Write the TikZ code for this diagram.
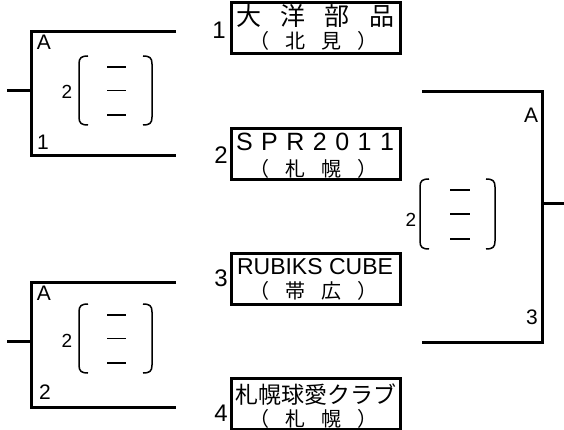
\documentclass[tikz,border=0pt]{standalone}
\usepackage{fontspec}
\setmainfont{Liberation Sans}
\newfontfamily\jp{Noto Sans CJK JP}
\newcommand\scorebr[6]{%
  \draw[thinl] ({#1+9},#3) .. controls ({#1+2},#3) and (#1,{#3+2}) .. (#1,{#3+8}) -- (#1,{#4-8}) .. controls (#1,{#4-2}) and ({#1+2},#4) .. ({#1+9},#4);
  \draw[thinl] ({#2-9},#3) .. controls ({#2-2},#3) and (#2,{#3+2}) .. (#2,{#3+8}) -- (#2,{#4-8}) .. controls (#2,{#4-2}) and ({#2-2},#4) .. ({#2-9},#4);
  \draw[thinl] (#5,{#3+11}) -- (#6,{#3+11});
  \draw[thinl] (#5,{(#3+#4)/2}) -- (#6,{(#3+#4)/2});
  \draw[thinl] (#5,{#4-10}) -- (#6,{#4-10});
}
\begin{document}
\begin{tikzpicture}[x=1pt,y=-1pt,
  bline/.style={line width=3pt},
  tbox/.style={draw, line width=3pt, minimum width=169pt, minimum height=51pt, inner sep=0pt},
  thinl/.style={line width=1.5pt},
  lab/.style={inner sep=0pt, font=\fontsize{21}{21}\selectfont},
  slab/.style={inner sep=0pt, font=\fontsize{19}{19}\selectfont},
  num/.style={inner sep=0pt, font=\fontsize{24}{24}\selectfont},
  jpa/.style={inner sep=0pt, font=\jp\fontsize{25}{25}\selectfont},
  jpb/.style={inner sep=0pt, font=\jp\fontsize{20}{20}\selectfont},
  lat/.style={inner sep=0pt, font=\fontsize{25}{25}\selectfont}]
\useasboundingbox (0,0) rectangle (564,430);

% team boxes
\node[tbox] (b1) at (315.5,28.5) {};
\node[tbox] (b2) at (315.5,154) {};
\node[tbox] (b3) at (315.5,279) {};
\node[tbox] (b4) at (315.5,403.5) {};

\node[jpa] (t1a) at (315,16) {\makebox[158pt][s]{大\hfill 洋\hfill 部\hfill 品}};
\node[jpb] (t1b) at (313,41) {\makebox[128pt][s]{（\hfill 北\hfill 見\hfill ）}};
\node[lat] (t2a) at (315,142) {\makebox[158pt][s]{S\hfill P\hfill R\hfill 2\hfill 0\hfill 1\hfill 1}};
\node[jpb] (t2b) at (313,169) {\makebox[128pt][s]{（\hfill 札\hfill 幌\hfill ）}};
\node[inner sep=0pt, font=\fontsize{23}{23}\selectfont] (t3a) at (315,267) {RUBIKS CUBE};
\node[jpb] (t3b) at (313,291) {\makebox[128pt][s]{（\hfill 帯\hfill 広\hfill ）}};
\node[inner sep=0pt, font=\jp\fontsize{23}{23}\selectfont] (t4a) at (315,395) {\makebox[160pt][s]{札\hfill 幌\hfill 球\hfill 愛\hfill ク\hfill ラ\hfill ブ}};
\node[jpb] (t4b) at (313,419) {\makebox[128pt][s]{（\hfill 札\hfill 幌\hfill ）}};

% seed numbers
\node[num] (n1) at (219,30) {1};
\node[num] (n2) at (221,155) {2};
\node[num] (n3) at (221,278) {3};
\node[num] (n4) at (221,413) {4};

% top-left bracket
\coordinate (p1a) at (176,32);
\coordinate (p1b) at (31,32);
\coordinate (p1c) at (31,156);
\coordinate (p1d) at (176,156);
\coordinate (p1m) at (31,91);
\coordinate (p1s) at (7,91);
\draw[bline] (p1a) -- (p1b) -- (p1c) -- (p1d);
\draw[bline] (p1s) -- (p1m);
\node[lab] (q1a) at (44,42) {A};
\node[lab] (q1b) at (43,142) {1};
\node[slab] (q1c) at (67,92) {2};
\scorebr{79}{152}{56}{125}{107}{126}

% bottom-left bracket
\coordinate (p2a) at (176,282);
\coordinate (p2b) at (31,282);
\coordinate (p2c) at (31,407);
\coordinate (p2d) at (176,407);
\coordinate (p2m) at (31,341);
\coordinate (p2s) at (7,341);
\draw[bline] (p2a) -- (p2b) -- (p2c) -- (p2d);
\draw[bline] (p2s) -- (p2m);
\node[lab] (q2a) at (44,293) {A};
\node[lab] (q2b) at (45,392) {2};
\node[slab] (q2c) at (67,341) {2};
\scorebr{79}{152}{304}{373}{107}{126}

% right bracket
\coordinate (p3a) at (422,92);
\coordinate (p3b) at (542,92);
\coordinate (p3c) at (542,342);
\coordinate (p3d) at (422,342);
\coordinate (p3m) at (542,204);
\coordinate (p3s) at (564,204);
\draw[bline] (p3a) -- (p3b) -- (p3c) -- (p3d);
\draw[bline] (p3m) -- (p3s);
\node[lab] (q3a) at (531,115) {A};
\node[lab] (q3b) at (532,317) {3};
\node[slab] (q3c) at (411,220) {2};
\scorebr{420}{495}{179}{249}{450}{470}
\end{tikzpicture}
\end{document}
